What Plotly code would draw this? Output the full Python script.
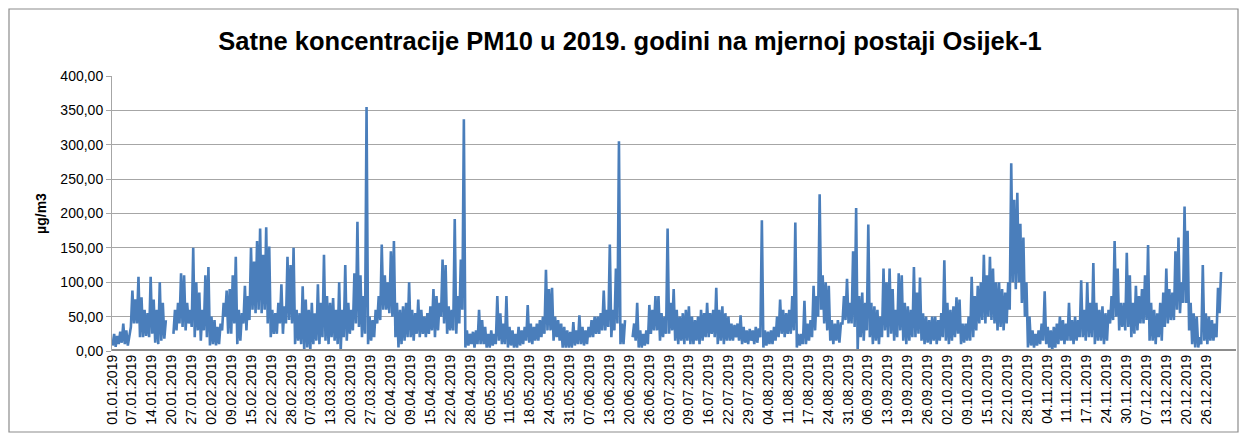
import plotly.graph_objects as go

# Daily maximum and minimum hourly PM10 values (µg/m3), day 0 = 01.01.2019
day_max = [
    25, 22, 28, 40, 30, 20, 88, 75, 108, 78,
    60, 55, 108, 75, 60, 100, 70, 45, None, None,
    60, 70, 113, 110, 70, 60, 150, 100, 85, 60,
    110, 122, 50, 45, 35, 40, 70, 88, 90, 110,
    137, 60, 55, 95, 80, 150, 130, 160, 178, 140,
    180, 152, 60, 55, 70, 97, 65, 137, 125, 150,
    60, 55, 94, 75, 60, 70, 55, 97, 70, 140,
    80, 70, 77, 60, 100, 60, 125, 70, 60, 113,
    188, 110, 80, 355, 50, 45, 60, 80, 155, 110,
    100, 145, 160, 70, 60, 65, 70, 100, 60, 55,
    75, 60, 50, 55, 65, 90, 80, 70, 133, 125,
    65, 60, 192, 80, 133, 337, 30, 25, 28, 30,
    60, 45, 35, 25, 30, 25, 80, 55, 40, 80,
    35, 30, 25, 35, 30, 35, 67, 40, 35, 40,
    45, 50, 118, 90, 92, 50, 45, 40, 35, 30,
    28, 42, 30, 52, 35, 30, 35, 45, 50, 50,
    55, 88, 60, 155, 60, 120, 305, 40, 45, None,
    None, 40, 70, 30, 25, 30, 67, 60, 80, 80,
    55, 50, 178, 70, 90, 60, 50, 55, 60, 65,
    50, 45, 50, 60, 55, 70, 55, 60, 92, 60,
    65, 55, 50, 40, 38, 40, 52, 35, 30, 32,
    30, 35, 33, 190, 30, 28, 30, 35, 50, 75,
    60, 55, 60, 80, 187, 25, 25, 73, 40, 45,
    95, 80, 228, 110, 100, 95, 45, 40, 45, 40,
    80, 105, 70, 145, 208, 80, 85, 70, 184, 70,
    65, 60, 50, 120, 100, 120, 90, 60, 113, 110,
    70, 65, 60, 122, 85, 107, 55, 50, 45, 50,
    50, 45, 55, 132, 70, 60, 65, 78, 75, 40,
    40, 50, 108, 80, 95, 100, 140, 110, 137, 120,
    100, 100, 90, 85, 100, 273, 220, 230, 185, 165,
    100, 50, 30, 25, 30, 40, 87, 35, 30, 35,
    40, 50, 45, 40, 70, 45, 50, 45, 103, 60,
    100, 70, 128, 70, 60, 65, 55, 60, 80, 160,
    120, 70, 70, 143, 110, 70, 95, 80, 90, 110,
    154, 70, 60, 55, 70, 85, 120, 90, 85, 145,
    165, 100, 210, 175, 70, 55, 50, 20, 125, 55,
    50, 45, 40, 92, 115,
]

day_min = [
    8, 6, 10, 12, 10, 8, 35, 40, 40, 20,
    20, 22, 20, 25, 12, 10, 15, 18, None, None,
    25, 30, 40, 35, 30, 40, 35, 20, 30, 15,
    30, 20, 8, 10, 8, 10, 30, 50, 25, 25,
    40, 10, 15, 40, 30, 45, 60, 55, 60, 55,
    60, 40, 20, 25, 25, 40, 25, 40, 45, 40,
    10, 15, 10, 0, 5, 0, 10, 15, 10, 20,
    15, 10, 20, 15, 10, 0, 20, 15, 25, 30,
    40, 35, 20, 25, 10, 15, 20, 40, 45, 60,
    60, 55, 50, 20, 5, 10, 15, 20, 20, 15,
    25, 20, 25, 20, 25, 30, 20, 30, 50, 40,
    25, 30, 30, 25, 40, 60, 5, 8, 10, 5,
    10, 10, 10, 5, 5, 8, 10, 15, 10, 10,
    5, 8, 5, 5, 8, 10, 15, 12, 10, 15,
    15, 20, 25, 30, 30, 15, 20, 15, 5, 5,
    5, 5, 8, 10, 10, 8, 10, 20, 20, 25,
    25, 30, 30, 35, 20, 30, 40, 10, 10, None,
    None, 20, 15, 5, 5, 8, 10, 25, 30, 30,
    15, 20, 25, 25, 30, 15, 10, 15, 10, 15,
    10, 10, 15, 10, 15, 20, 20, 25, 20, 10,
    15, 10, 15, 15, 15, 20, 15, 10, 12, 10,
    15, 10, 12, 20, 5, 8, 10, 10, 15, 20,
    25, 20, 25, 25, 30, 5, 8, 10, 10, 15,
    20, 30, 50, 60, 40, 30, 15, 10, 15, 12,
    40, 45, 40, 40, 35, 0, 20, 15, 30, 20,
    10, 15, 10, 20, 30, 20, 25, 15, 20, 30,
    15, 10, 15, 20, 20, 25, 15, 10, 12, 10,
    15, 10, 15, 20, 15, 10, 15, 20, 25, 10,
    12, 15, 15, 20, 30, 40, 45, 40, 50, 45,
    40, 30, 35, 30, 40, 60, 100, 90, 100, 70,
    50, 5, 8, 5, 8, 10, 15, 10, 5, 0,
    5, 10, 15, 10, 15, 15, 10, 15, 20, 20,
    15, 20, 20, 10, 15, 15, 10, 15, 40, 45,
    50, 30, 35, 30, 35, 20, 25, 30, 40, 40,
    45, 15, 15, 10, 20, 15, 35, 40, 45, 45,
    60, 55, 70, 70, 30, 10, 5, 5, 10, 15,
    10, 15, 15, 20, 55,
]

tick_labels = [
    "01.01.2019", "07.01.2019", "14.01.2019", "20.01.2019", "27.01.2019",
    "02.02.2019", "09.02.2019", "15.02.2019", "22.02.2019", "28.02.2019",
    "07.03.2019", "13.03.2019", "20.03.2019", "27.03.2019", "02.04.2019",
    "09.04.2019", "15.04.2019", "22.04.2019", "28.04.2019", "05.05.2019",
    "11.05.2019", "18.05.2019", "24.05.2019", "31.05.2019", "07.06.2019",
    "13.06.2019", "20.06.2019", "26.06.2019", "03.07.2019", "09.07.2019",
    "16.07.2019", "22.07.2019", "29.07.2019", "04.08.2019", "11.08.2019",
    "17.08.2019", "24.08.2019", "31.08.2019", "06.09.2019", "13.09.2019",
    "19.09.2019", "26.09.2019", "02.10.2019", "09.10.2019", "15.10.2019",
    "22.10.2019", "28.10.2019", "04.11.2019", "11.11.2019", "17.11.2019",
    "24.11.2019", "30.11.2019", "07.12.2019", "13.12.2019", "20.12.2019",
    "26.12.2019",
]
label_step_hours = 157

y_ticks = [0, 50, 100, 150, 200, 250, 300, 350, 400]
y_tick_labels = ["0,00", "50,00", "100,00", "150,00", "200,00", "250,00", "300,00", "350,00", "400,00"]

assert len(day_max) == 365 and len(day_min) == 365

xs, ys = [], []
for d in range(365):
    xs += [d * 24 + 5, d * 24 + 17]
    ys += [day_min[d], day_max[d]]

fig = go.Figure()
fig.add_trace(go.Scatter(
    x=xs, y=ys, mode="lines", connectgaps=False,
    line=dict(color="#4a7ebb", width=2.6),
    hoverinfo="skip", showlegend=False,
))

# page body has an 8px margin, so the figure is laid out 8px left/up of the reference pixels
OFF = 8
W, H = 1249 - OFF, 443 - OFF
left, right, top, bottom = 112 - OFF, 1236 - OFF, 76 - OFF, 351 - OFF
ml, mr, mt, mb = left, W - right, top, H - bottom
pw, ph = right - left, bottom - top

fig.update_layout(
    width=W, height=H,
    margin=dict(l=ml, r=mr, t=mt, b=mb),
    paper_bgcolor="white", plot_bgcolor="white",
    font=dict(family="Liberation Sans, Arial, sans-serif", size=14, color="#000000"),
    title=dict(
        text="<b>Satne koncentracije PM10 u 2019. godini na mjernoj postaji Osijek-1</b>",
        x=(630 - OFF) / W, xref="container", xanchor="center",
        y=1 - (41 - OFF) / H, yref="container", yanchor="middle",
        font=dict(family="Liberation Sans, Arial", size=25.5, color="#000000"),
    ),
    xaxis=dict(
        range=[0, 8871], tickmode="array",
        tickvals=[k * label_step_hours for k in range(len(tick_labels))],
        ticktext=tick_labels, tickangle=-90,
        showgrid=False, zeroline=False,
        showline=False, ticks="",
        tickfont=dict(size=14, color="#000000"),
    ),
    yaxis=dict(
        range=[0, 400], tickmode="array", tickvals=y_ticks, ticktext=y_tick_labels,
        showgrid=True, gridcolor="#a6a6a6", gridwidth=1,
        zeroline=False, showline=True, linecolor="#a6a6a6", linewidth=1,
        ticks="outside", ticklen=5, tickcolor="#a6a6a6",
        tickfont=dict(size=14, color="#000000"),
        title=dict(text="<b>µg/m3</b>", font=dict(size=14, color="#000000"), standoff=10),
    ),
    shapes=[
        dict(type="line", xref="paper", yref="y", x0=0, x1=1, y0=0, y1=0,
             line=dict(color="#8c8c8c", width=4), layer="above"),
        dict(type="rect", xref="paper", yref="paper",
             x0=(1 - left) / pw, x1=(1238 - OFF - left) / pw,
             y0=(bottom - (432 - OFF)) / ph, y1=(bottom - 1) / ph,
             line=dict(color="#8c8c8c", width=1.2), fillcolor="rgba(0,0,0,0)", layer="above"),
    ],
)

fig.write_html("out.html")
